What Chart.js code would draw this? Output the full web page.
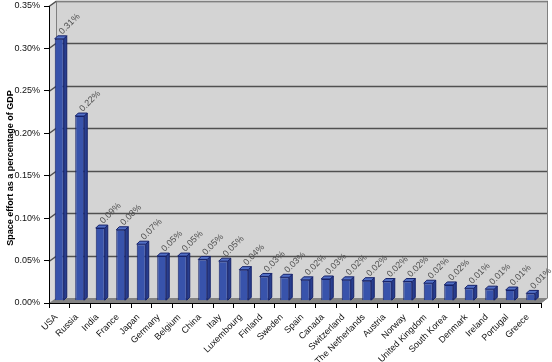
<!DOCTYPE html>
<html>
<head>
<meta charset="utf-8">
<script src="https://cdn.jsdelivr.net/npm/chart.js@4.4.1/dist/chart.umd.min.js"></script>
<style>
  html, body { margin: 0; padding: 0; background: #ffffff; }
  #wrap { width: 552px; height: 362px; position: relative; }
</style>
</head>
<body>
<div id="wrap"><canvas id="c" width="552" height="362"></canvas></div>
<script>
// ---- data ----
const categories = ['USA', 'Russia', 'India', 'France', 'Japan', 'Germany', 'Belgium', 'China', 'Italy',
  'Luxembourg', 'Finland', 'Sweden', 'Spain', 'Canada', 'Switzerland', 'The Netherlands', 'Austria',
  'Norway', 'United Kingdom', 'South Korea', 'Denmark', 'Ireland', 'Portugal', 'Greece'];
const spaceEffort = [0.308, 0.217, 0.085, 0.083, 0.066, 0.052, 0.052, 0.048, 0.046,
  0.036, 0.028, 0.027, 0.024, 0.025, 0.024, 0.023, 0.022,
  0.022, 0.020, 0.018, 0.014, 0.013, 0.012, 0.008];
const yTickValues = [0, 0.05, 0.10, 0.15, 0.20, 0.25, 0.30, 0.35];
const yTitle = 'Space effort as a percentage of GDP';

// ---- 3D look (Excel style) ----
const DX = 7, DY = 5;       // depth offset of back wall
const BDX = 3, BDY = 3;     // bar depth
const SHIFT = 0.0033;       // bars stand mid-depth on the floor

const FONT = 'Arial, "Liberation Sans", sans-serif';

const excel3d = {
  id: 'excel3d',
  beforeDraw(chart) {
    const { ctx, chartArea: ca, scales } = chart;
    const y = scales.y;
    const L = ca.left, R = ca.right;
    const T = y.getPixelForValue(0.35), B = y.getPixelForValue(0);
    ctx.save();
    // left wall
    ctx.fillStyle = '#dadada';
    ctx.beginPath();
    ctx.moveTo(L, T); ctx.lineTo(L + DX, T - DY); ctx.lineTo(L + DX, B - DY); ctx.lineTo(L, B);
    ctx.closePath(); ctx.fill();
    // back wall
    ctx.fillStyle = '#d4d4d4';
    ctx.fillRect(L + DX, T - DY, R - L, B - T);
    // floor
    ctx.fillStyle = '#838383';
    ctx.beginPath();
    ctx.moveTo(L, B); ctx.lineTo(R, B); ctx.lineTo(R + DX, B - DY); ctx.lineTo(L + DX, B - DY);
    ctx.closePath(); ctx.fill();
    // gridlines
    ctx.strokeStyle = '#505050';
    ctx.lineWidth = 1.5;
    yTickValues.forEach(v => {
      if (v === 0) return;
      const py = Math.round(y.getPixelForValue(v)) + 0.5;
      ctx.beginPath();
      ctx.moveTo(L, py); ctx.lineTo(L + DX, py - DY); ctx.lineTo(R + DX, py - DY);
      ctx.stroke();
    });
    // wall edges
    ctx.strokeStyle = '#808080';
    ctx.lineWidth = 1;
    ctx.beginPath();
    ctx.moveTo(L + DX + 0.5, B - DY); ctx.lineTo(L + DX + 0.5, T - DY + 0.5);
    ctx.lineTo(R + DX - 0.5, T - DY + 0.5); ctx.lineTo(R + DX - 0.5, B - DY);
    ctx.lineTo(R, B);
    ctx.stroke();
    ctx.restore();
  },
  afterDatasetsDraw(chart) {
    const { ctx } = chart;
    const meta = chart.getDatasetMeta(0);
    ctx.save();
    meta.data.forEach((bar, i) => {
      const x1 = bar.x - bar.width / 2, x2 = bar.x + bar.width / 2;
      const top = bar.y, base = bar.base;
      ctx.lineWidth = 1;
      ctx.strokeStyle = '#16226a';
      // side face
      ctx.fillStyle = '#283e8e';
      ctx.beginPath();
      ctx.moveTo(x2, top); ctx.lineTo(x2 + BDX, top - BDY); ctx.lineTo(x2 + BDX, base - BDY); ctx.lineTo(x2, base);
      ctx.closePath(); ctx.fill(); ctx.stroke();
      // top face
      ctx.fillStyle = '#5270c6';
      ctx.beginPath();
      ctx.moveTo(x1, top); ctx.lineTo(x1 + BDX, top - BDY); ctx.lineTo(x2 + BDX, top - BDY); ctx.lineTo(x2, top);
      ctx.closePath(); ctx.fill(); ctx.stroke();
      // data label
      ctx.save();
      ctx.translate(bar.x + 3, top - 4);
      ctx.rotate(-Math.PI / 4);
      ctx.font = '9px ' + FONT;
      ctx.fillStyle = '#505050';
      ctx.textAlign = 'left';
      ctx.textBaseline = 'alphabetic';
      ctx.fillText(spaceEffort[i].toFixed(2) + '%', 0, 0);
      ctx.restore();
    });
    ctx.restore();
  },
  afterDraw(chart) {
    const { ctx } = chart;
    ctx.save();
    ctx.translate(11, 168);
    ctx.rotate(-Math.PI / 2);
    ctx.font = 'bold 9px ' + FONT;
    ctx.fillStyle = '#000';
    ctx.textAlign = 'center';
    ctx.textBaseline = 'middle';
    ctx.fillText(yTitle, 0, 0);
    ctx.restore();
  }
};

new Chart(document.getElementById('c'), {
  type: 'bar',
  data: {
    labels: categories,
    datasets: [{
      data: spaceEffort,
      yAxisID: 'y2',
      backgroundColor: '#3853ab',
      borderColor: '#16226a',
      borderWidth: 1,
      categoryPercentage: 1.0,
      barPercentage: 0.44
    }]
  },
  options: {
    responsive: false,
    animation: false,
    devicePixelRatio: 1,
    layout: { padding: { top: 6, right: 11, left: 0, bottom: 0 } },
    plugins: { legend: { display: false }, tooltip: { enabled: false } },
    scales: {
      x: {
        type: 'category',
        offset: true,
        grid: { offset: true, drawOnChartArea: false, drawTicks: true, tickLength: 5, color: '#000' },
        border: { display: true, color: '#000' },
        ticks: { autoSkip: false, minRotation: 45, maxRotation: 45, padding: 4, labelOffset: -3,
                 font: { family: FONT, size: 9 }, color: '#111' },
        afterFit: s => { s.height = 59; s.paddingLeft = 0; s.paddingRight = 0; }
      },
      y: {
        min: 0, max: 0.35,
        afterBuildTicks: s => { s.ticks = yTickValues.map(v => ({ value: v })); },
        ticks: { padding: 4, font: { family: FONT, size: 9 }, color: '#111',
                 callback: v => v.toFixed(2) + '%' },
        grid: { drawOnChartArea: false, drawTicks: true, tickLength: 5, color: '#000' },
        border: { display: true, color: '#000' },
        afterFit: s => { s.width = 49; s.paddingTop = 0; s.paddingBottom = 0; }
      },
      y2: { display: false, min: -SHIFT, max: 0.35 - SHIFT }
    }
  },
  plugins: [excel3d]
});
</script>
</body>
</html>
